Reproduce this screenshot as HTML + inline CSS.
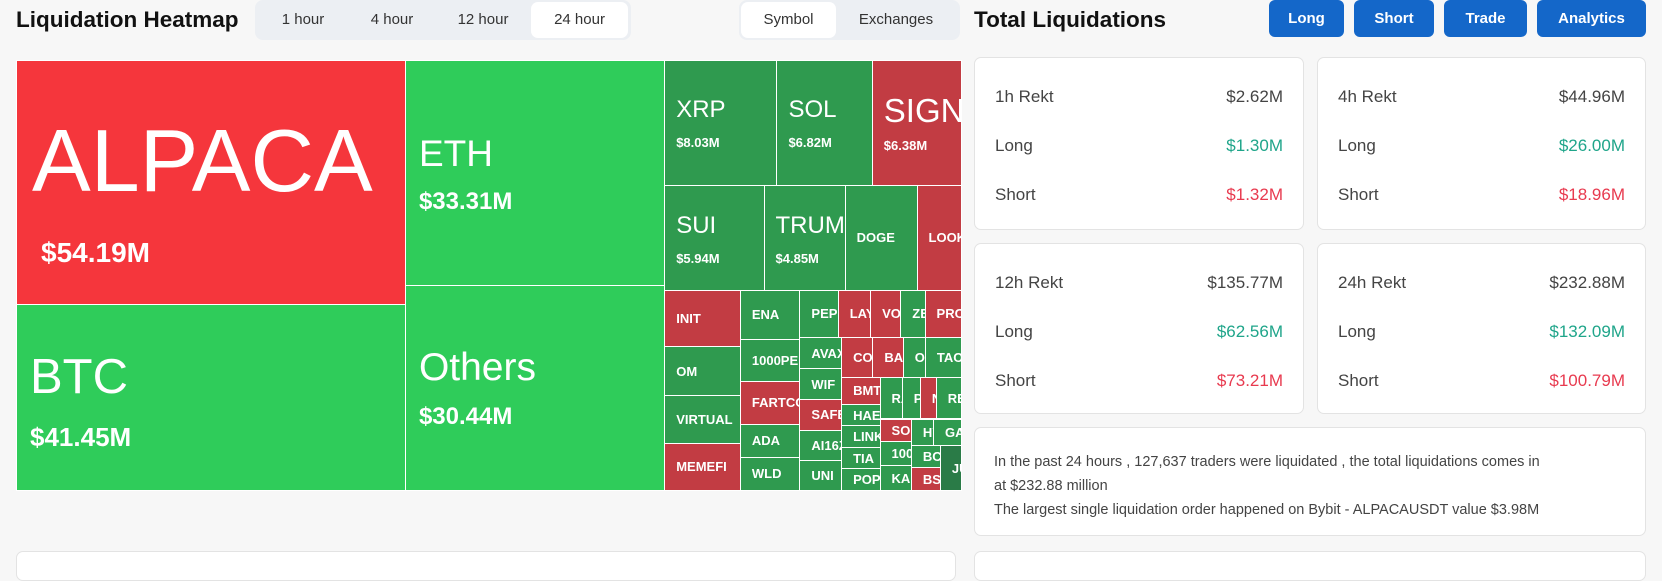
<!DOCTYPE html>
<html><head><meta charset="utf-8"><style>
*{box-sizing:border-box;margin:0;padding:0}
body{width:1662px;height:557px;background:#f7f7f7;font-family:"Liberation Sans",sans-serif;position:relative;overflow:hidden;color:#222}
.abs{position:absolute}
.title{font-weight:bold;font-size:22.5px;color:#111}
.tabs{background:#eceff3;border-radius:8px;display:flex;align-items:center;padding:0 2px}
.tab{font-size:15px;color:#333;height:36px;line-height:36px;text-align:center;border-radius:7px}
.tab.on{background:#fff}
.btn{background:#1467c9;color:#fff;font-weight:bold;font-size:15px;border-radius:6px;height:37px;line-height:37px;text-align:center}
.card{background:#fff;border:1px solid #e3e3e3;border-radius:7px}
.row{position:absolute;left:20px;right:20px;display:flex;justify-content:space-between;font-size:17px;color:#444}
.g{color:#1fa58a}.r{color:#e83a4f}
.cell{position:absolute;overflow:hidden;color:#fff;border:1px solid #fff;display:flex;flex-direction:column;white-space:nowrap}
</style></head><body>
<div class="abs title" style="left:16px;top:7px">Liquidation Heatmap</div>
<div class="abs tabs" style="left:255px;top:0;width:376px;height:40px">
 <div class="tab" style="width:92px">1 hour</div>
 <div class="tab" style="width:86px">4 hour</div>
 <div class="tab" style="width:96px">12 hour</div>
 <div class="tab on" style="width:97px">24 hour</div>
</div>
<div class="abs tabs" style="left:739px;top:0;width:221px;height:40px">
 <div class="tab on" style="width:95px">Symbol</div>
 <div class="tab" style="width:120px">Exchanges</div>
</div>
<div class="abs" id="tm" style="left:16px;top:60px;width:945px;height:430px"></div>
<div class="abs card" style="left:16px;top:551px;width:940px;height:30px"></div>

<div class="abs title" style="left:974px;top:7px">Total Liquidations</div>
<div class="abs btn" style="left:1269px;top:0;width:75px">Long</div>
<div class="abs btn" style="left:1354px;top:0;width:80px">Short</div>
<div class="abs btn" style="left:1444px;top:0;width:83px">Trade</div>
<div class="abs btn" style="left:1537px;top:0;width:109px">Analytics</div>

<div class="abs card" style="left:974px;top:57px;width:330px;height:173px">
 <div class="row" style="top:29px"><span>1h Rekt</span><span>$2.62M</span></div>
 <div class="row" style="top:78px"><span>Long</span><span class="g">$1.30M</span></div>
 <div class="row" style="top:127px"><span>Short</span><span class="r">$1.32M</span></div>
</div>
<div class="abs card" style="left:1317px;top:57px;width:329px;height:173px">
 <div class="row" style="top:29px"><span>4h Rekt</span><span>$44.96M</span></div>
 <div class="row" style="top:78px"><span>Long</span><span class="g">$26.00M</span></div>
 <div class="row" style="top:127px"><span>Short</span><span class="r">$18.96M</span></div>
</div>
<div class="abs card" style="left:974px;top:243px;width:330px;height:171px">
 <div class="row" style="top:29px"><span>12h Rekt</span><span>$135.77M</span></div>
 <div class="row" style="top:78px"><span>Long</span><span class="g">$62.56M</span></div>
 <div class="row" style="top:127px"><span>Short</span><span class="r">$73.21M</span></div>
</div>
<div class="abs card" style="left:1317px;top:243px;width:329px;height:171px">
 <div class="row" style="top:29px"><span>24h Rekt</span><span>$232.88M</span></div>
 <div class="row" style="top:78px"><span>Long</span><span class="g">$132.09M</span></div>
 <div class="row" style="top:127px"><span>Short</span><span class="r">$100.79M</span></div>
</div>
<div class="abs card" style="left:974px;top:427px;width:672px;height:109px;padding:22px 100px 0 19px;font-size:14.5px;line-height:24px;color:#444">
 In the past 24 hours , 127,637 traders were liquidated , the total liquidations comes in at $232.88 million<br>The largest single liquidation order happened on Bybit - ALPACAUSDT value $3.98M
</div>
<div class="abs card" style="left:974px;top:551px;width:672px;height:30px"></div>

<script>
// leaf values in $M; sides: L = long-dominant(green), S = short(red)
const names = ["ALPACA","BTC","ETH","Others","XRP","SOL","SIGN","SUI","TRUMP","DOGE","LOOKS","INIT","OM","VIRTUAL","MEMEFI","ENA","1000PEPE","FARTCOIN","ADA","WLD","PEPE","LAYER","VOXEL","ZEREBRO","PROMPT","AVAX","WIF","SAFE","AI16Z","UNI","COOKIE","BANANA","ONDO","TAO","BMT","HAEDAL","LINK","TIA","POPCAT","RAY","PNUT","NEAR","RENDER","SOPH","1000BONK","KAITO","HYPE","GALA","BCH","BSW","JUP"];
const values = [54.19,41.45,33.31,30.44,8.03,6.82,6.38,5.94,4.85,4.30,2.66,2.44,2.13,2.05,2.05,1.68,1.44,1.44,1.13,1.13,1.04,0.88,0.82,0.66,0.99,0.74,0.74,0.72,0.72,0.72,0.71,0.69,0.50,0.82,0.59,0.48,0.48,0.46,0.48,0.53,0.43,0.38,0.60,0.41,0.43,0.44,0.34,0.43,0.36,0.38,0.54];
const sides = ["SB","LB","LB","LB","L","L","S","L","L","L","S","S","L","L","S","L","L","S","L","L","L","S","S","L","S","L","L","S","L","L","S","S","L","L","S","L","L","L","L","L","L","S","L","S","L","L","L","L","L","S","D"];
const showValue = ["ALPACA","BTC","ETH","Others","XRP","SOL","SIGN","SUI","TRUMP"];

const colors={SB:"#f5363c",LB:"#2fcc5a",L:"#2f9a4f",S:"#c23c43",D:"#2a7b47"};
// [nameSize, valueSize, gap, padLeft, padTop, valuePadExtra]
const fontMap={ALPACA:[88,28,34,15,56,9],BTC:[49,26,22,13,48,0],ETH:[37,24,18,13,74,0],Others:[39,24,18,13,62,0],SIGN:[33,13,12,11,33,0],
 XRP:[24,13,14,11,37,0],SOL:[24,13,14,11,37,0],SUI:[24,13,14,11,28,0],TRUMP:[24,13,14,11,28,0]};
const idx={};names.forEach((n,i)=>idx[n]=i);
const L=n=>({leaf:n});
const R=(...c)=>({dir:"row",c});
const C=(...c)=>({dir:"col",c});
const tree=R(
 C(L("ALPACA"),L("BTC")),
 C(L("ETH"),L("Others")),
 C(R(L("XRP"),L("SOL"),L("SIGN")),
   R(L("SUI"),L("TRUMP"),L("DOGE"),L("LOOKS")),
   R(C(L("INIT"),L("OM"),L("VIRTUAL"),L("MEMEFI")),
     C(L("ENA"),L("1000PEPE"),L("FARTCOIN"),L("ADA"),L("WLD")),
     C(R(L("PEPE"),L("LAYER"),L("VOXEL"),L("ZEREBRO"),L("PROMPT")),
       R(C(L("AVAX"),L("WIF"),L("SAFE"),L("AI16Z"),L("UNI")),
         C(R(L("COOKIE"),L("BANANA"),L("ONDO"),L("TAO")),
           R(C(L("BMT"),L("HAEDAL"),L("LINK"),L("TIA"),L("POPCAT")),
             C(R(L("RAY"),L("PNUT"),L("NEAR"),L("RENDER")),
               R(C(L("SOPH"),L("1000BONK"),L("KAITO")),
                 C(R(L("HYPE"),L("GALA")),R(C(L("BCH"),L("BSW")),L("JUP")))))))))))
);
function sum(n){return n.leaf?values[idx[n.leaf]]:n.c.reduce((a,b)=>a+sum(b),0);}
const tm=document.getElementById('tm');
function layout(n,x,y,w,h){
 if(n.leaf){draw(n.leaf,x,y,w,h);return;}
 const t=sum(n);let o=0;
 n.c.forEach(ch=>{const f=sum(ch)/t;
  if(n.dir==="row"){layout(ch,x+o,y,w*f,h);o+=w*f;}else{layout(ch,x,y+o,w,h*f);o+=h*f;}});
}
function draw(name,x,y,w,h){
 const i=idx[name];
 const d=document.createElement('div');
 d.className='cell';
 
 
 const fm=fontMap[name];
 let st=`left:${x}px;top:${y}px;width:${w+1}px;height:${h+1}px;background:${colors[sides[i]]};`;
 let html;
 if(fm){
  st+=`justify-content:flex-start;padding-left:${fm[3]}px;padding-top:${fm[4]}px`;
  html=`<div style="font-size:${fm[0]}px;line-height:1">${name}</div>`;
  if(showValue.includes(name)) html+=`<div style="font-size:${fm[1]}px;line-height:1;font-weight:bold;margin-top:${fm[2]}px;padding-left:${fm[5]}px">$${values[i].toFixed(2)}M</div>`;
 } else {
  st+=`justify-content:center;padding-left:11px`;
  html=`<div style="font-size:13px;line-height:1;font-weight:bold">${name}</div>`;
 }
 d.style.cssText+=st;
 d.innerHTML=html;
 tm.appendChild(d);
}
layout(tree,0,0,945,430);
</script>
</body></html>
